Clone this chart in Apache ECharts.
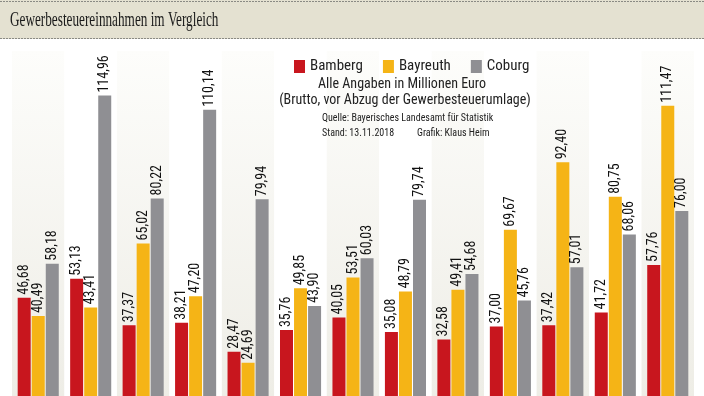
<!DOCTYPE html>
<html><head><meta charset="utf-8">
<script src="https://cdn.jsdelivr.net/npm/echarts@6/dist/echarts.min.js"></script>
<style>html,body{margin:0;padding:0;background:#fff}#c{width:704px;height:396px}</style>
</head><body><div id="c"></div>
<script>
var categories = ['2005','2006','2007','2008','2009','2010','2011','2012','2013','2014','2015','2016','2017'];
var bamberg  = [46.68, 53.13, 37.37, 38.21, 28.47, 35.76, 40.05, 35.08, 32.58, 37.00, 37.42, 41.72, 57.76];
var bayreuth = [40.49, 43.41, 65.02, 47.20, 24.69, 49.85, 53.51, 48.79, 49.41, 69.67, 92.40, 80.75, 111.47];
var coburg   = [58.18, 114.96, 80.22, 110.14, 79.94, 43.90, 60.03, 79.74, 54.68, 45.76, 57.01, 68.06, 76.00];
var seriesNames = ['Bamberg', 'Bayreuth', 'Coburg'];
var titleText = 'Gewerbesteuereinnahmen im Vergleich';
var noteLines = ['Alle Angaben in Millionen Euro', '(Brutto, vor Abzug der Gewerbesteuerumlage)'];
var sourceLine = 'Quelle: Bayerisches Landesamt für Statistik';
var standText = 'Stand: 13.11.2018';
var grafikText = 'Grafik: Klaus Heim';

var NARROW = '"Liberation Sans Narrow", "Arial Narrow", "Roboto Condensed", "Liberation Sans", sans-serif';
var chart = echarts.init(document.getElementById('c'));
function fmt(p){ return p.value.toFixed(2).replace('.', ','); }
function mk(name, data, color){
  return {
    name: name, type: 'bar', data: data, barWidth: 13, barGap: '8%', clip: false,
    itemStyle: { color: color },
    label: { show: true, position: 'top', rotate: 90, align: 'left', verticalAlign: 'middle',
      distance: 3, formatter: fmt, color: '#111', fontSize: 14, fontFamily: NARROW }
  };
}
var stripe = new echarts.graphic.LinearGradient(0, 0, 0, 1, [
  { offset: 0, color: '#fdfdfb' }, { offset: 1, color: '#eeede6' }
]);
chart.setOption({
  animation: false,
  backgroundColor: '#ffffff',
  grid: { left: 12, right: 10, top: 51, bottom: 0 },
  legend: {
    data: seriesNames, left: 289, top: 54, icon: 'rect', itemWidth: 11, itemHeight: 13, itemGap: 20,
    textStyle: { fontSize: 15, fontFamily: NARROW, color: '#222' }
  },
  xAxis: {
    type: 'category', data: categories,
    axisLine: { show: false }, axisTick: { show: false }, axisLabel: { show: false },
    splitArea: { show: true, areaStyle: { color: [stripe, '#ffffff'] } }
  },
  yAxis: { type: 'value', min: 13.5, max: 130, show: false, splitLine: { show: false } },
  series: [
    mk(seriesNames[0], bamberg, '#c8161e'),
    mk(seriesNames[1], bayreuth, '#f5b416'),
    mk(seriesNames[2], coburg, '#8f8f93')
  ],
  graphic: [
    { type: 'rect', shape: { x: 0, y: 0, width: 704, height: 39 }, style: { fill: '#e4e1d1' }, z: 10 },
    { type: 'line', shape: { x1: 0, y1: 1.5, x2: 704, y2: 1.5 }, style: { stroke: '#8a8a84', lineWidth: 1, lineDash: [2, 1] }, z: 11 },
    { type: 'line', shape: { x1: 0, y1: 38.5, x2: 704, y2: 38.5 }, style: { stroke: '#8a8a84', lineWidth: 1, lineDash: [2, 1] }, z: 11 },
    { type: 'text', x: 10, y: 20, scaleX: 0.63, z: 12,
      style: { text: titleText, fill: '#1a1a1a', font: '21px "Liberation Serif", "DejaVu Serif", serif', textVerticalAlign: 'middle' } },
    { type: 'rect', shape: { x: 277, y: 44, width: 258, height: 98 }, style: { fill: '#ffffff' }, z: -1 },
    { type: 'text', x: 402, y: 84, z: 12,
      style: { text: noteLines[0], fill: '#222', font: '14px ' + NARROW, textAlign: 'center', textVerticalAlign: 'middle' } },
    { type: 'text', x: 405, y: 100, z: 12,
      style: { text: noteLines[1], fill: '#222', font: '14px ' + NARROW, textAlign: 'center', textVerticalAlign: 'middle' } },
    { type: 'text', x: 322, y: 118, z: 12,
      style: { text: sourceLine, fill: '#222', font: '10px ' + NARROW, textVerticalAlign: 'middle' } },
    { type: 'text', x: 322, y: 133, z: 12,
      style: { text: standText, fill: '#222', font: '10px ' + NARROW, textVerticalAlign: 'middle' } },
    { type: 'text', x: 417, y: 133, z: 12,
      style: { text: grafikText, fill: '#222', font: '10px ' + NARROW, textVerticalAlign: 'middle' } }
  ]
});
</script></body></html>
